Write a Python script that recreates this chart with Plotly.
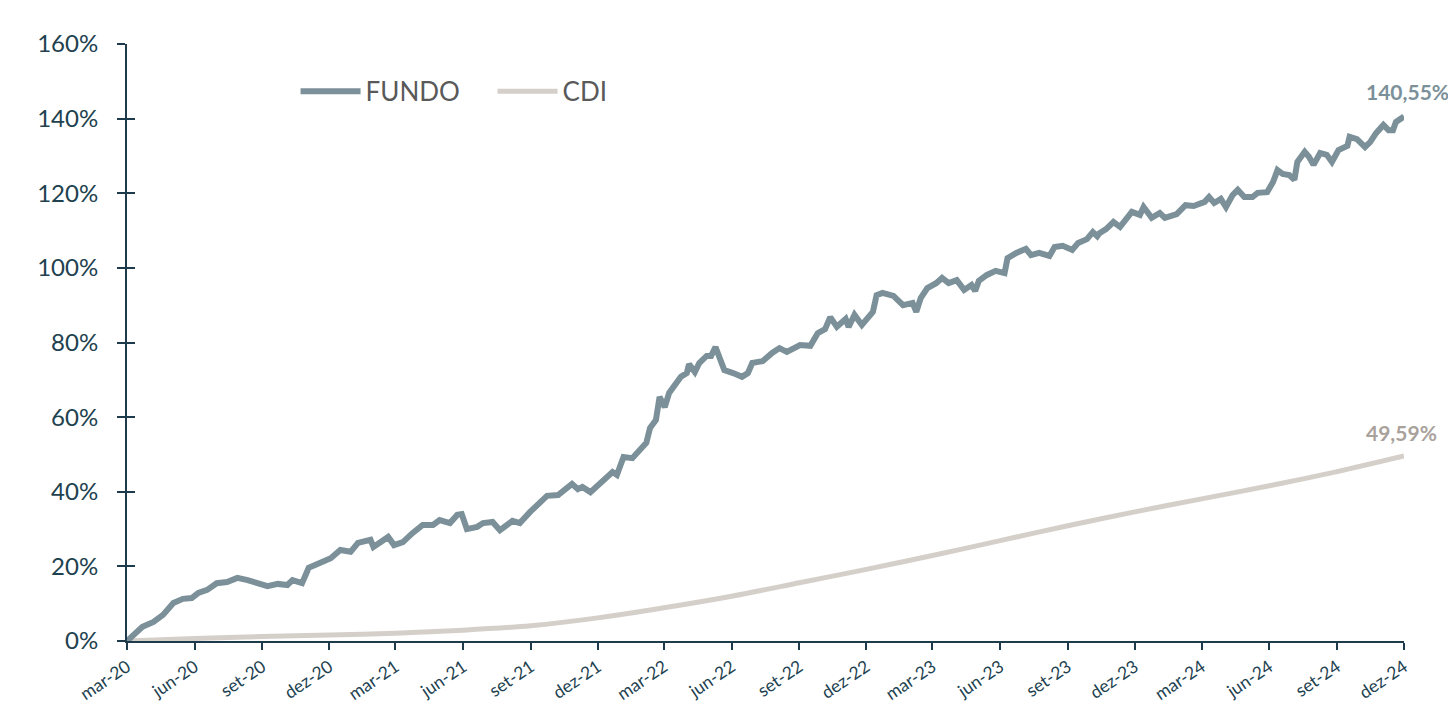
import plotly.graph_objects as go

# ---------------- DATA ----------------
fundo_dates = [
    "2020-03-01", "2020-03-05", "2020-03-22", "2020-04-06", "2020-04-19", "2020-05-03", "2020-05-16", "2020-05-28",
    "2020-06-06", "2020-06-18", "2020-07-01", "2020-07-15", "2020-07-29", "2020-08-12", "2020-08-25", "2020-09-08",
    "2020-09-22", "2020-10-05", "2020-10-12", "2020-10-25", "2020-11-03", "2020-11-19", "2020-12-03", "2020-12-16",
    "2020-12-30", "2021-01-09", "2021-01-26", "2021-01-30", "2021-02-19", "2021-02-27", "2021-03-11", "2021-03-24",
    "2021-04-07", "2021-04-21", "2021-04-30", "2021-05-14", "2021-05-24", "2021-05-30", "2021-06-06", "2021-06-20",
    "2021-06-28", "2021-07-11", "2021-07-21", "2021-08-07", "2021-08-17", "2021-08-31", "2021-09-14", "2021-09-23",
    "2021-10-08", "2021-10-18", "2021-10-27", "2021-11-04", "2021-11-10", "2021-11-21", "2021-12-02", "2021-12-11",
    "2021-12-21", "2021-12-27", "2022-01-05", "2022-01-17", "2022-01-25", "2022-02-05", "2022-02-10", "2022-02-18",
    "2022-02-23", "2022-03-02", "2022-03-08", "2022-03-18", "2022-03-24", "2022-04-01", "2022-04-04", "2022-04-12",
    "2022-04-18", "2022-04-28", "2022-05-04", "2022-05-10", "2022-05-15", "2022-05-22", "2022-06-03", "2022-06-15",
    "2022-06-23", "2022-06-29", "2022-07-07", "2022-07-13", "2022-07-26", "2022-08-05", "2022-08-15", "2022-09-02",
    "2022-09-16", "2022-09-26", "2022-10-06", "2022-10-13", "2022-10-22", "2022-11-03", "2022-11-07", "2022-11-15",
    "2022-11-25", "2022-12-03", "2022-12-10", "2022-12-15", "2022-12-23", "2023-01-07", "2023-01-20", "2023-02-02",
    "2023-02-07", "2023-02-13", "2023-02-22", "2023-03-06", "2023-03-14", "2023-03-23", "2023-04-03", "2023-04-13",
    "2023-04-23", "2023-04-28", "2023-05-03", "2023-05-14", "2023-05-26", "2023-06-07", "2023-06-11", "2023-06-23",
    "2023-07-06", "2023-07-13", "2023-07-24", "2023-08-07", "2023-08-14", "2023-08-25", "2023-09-07", "2023-09-15",
    "2023-09-27", "2023-10-05", "2023-10-11", "2023-10-14", "2023-10-23", "2023-11-02", "2023-11-11", "2023-11-27",
    "2023-12-08", "2023-12-13", "2023-12-24", "2024-01-04", "2024-01-11", "2024-01-27", "2024-02-08", "2024-02-19",
    "2024-03-05", "2024-03-11", "2024-03-18", "2024-03-27", "2024-04-03", "2024-04-12", "2024-04-19", "2024-04-28",
    "2024-05-09", "2024-05-16", "2024-05-29", "2024-06-06", "2024-06-12", "2024-06-19", "2024-06-28", "2024-07-05",
    "2024-07-09", "2024-07-19", "2024-07-25", "2024-07-31", "2024-08-09", "2024-08-18", "2024-08-25", "2024-09-03",
    "2024-09-15", "2024-09-18", "2024-09-28", "2024-10-09", "2024-10-16", "2024-10-24", "2024-11-03", "2024-11-10",
    "2024-11-16", "2024-11-20", "2024-12-01",
]
fundo_values = [
    0.0, 0.8, 3.8, 5.1, 7.0, 10.2, 11.3, 11.5,
    12.9, 13.7, 15.5, 15.8, 16.9, 16.3, 15.5, 14.7,
    15.3, 15.0, 16.3, 15.5, 19.6, 20.9, 22.2, 24.4,
    23.9, 26.3, 27.1, 25.2, 27.9, 25.7, 26.5, 28.9,
    31.1, 31.1, 32.4, 31.6, 33.8, 34.0, 30.0, 30.6,
    31.6, 31.9, 29.7, 32.2, 31.6, 34.6, 37.3, 38.9,
    39.1, 40.5, 42.1, 40.7, 41.3, 39.9, 41.8, 43.1,
    45.3, 44.5, 49.3, 49.0, 50.9, 53.1, 57.1, 59.2,
    65.4, 62.7, 66.5, 69.1, 70.8, 71.8, 74.2, 72.1,
    74.5, 76.4, 76.4, 78.8, 76.6, 72.6, 71.8, 70.8,
    71.8, 74.5, 74.8, 75.0, 77.2, 78.5, 77.5, 79.3,
    79.1, 82.5, 83.6, 86.8, 84.2, 86.3, 84.2, 87.4,
    84.7, 86.8, 88.2, 92.7, 93.3, 92.5, 90.0, 90.6,
    88.2, 91.9, 94.6, 95.9, 97.3, 95.9, 96.7, 94.1,
    95.4, 93.8, 96.5, 98.1, 99.2, 98.6, 102.6, 104.0,
    105.1, 103.4, 104.0, 103.2, 105.6, 105.9, 104.8, 106.7,
    107.7, 109.6, 108.5, 109.3, 110.4, 112.3, 111.0, 115.0,
    114.2, 116.3, 113.4, 114.7, 113.4, 114.4, 116.8, 116.6,
    117.7, 119.0, 117.4, 118.5, 116.3, 119.5, 120.9, 119.0,
    119.0, 120.1, 120.3, 123.0, 126.2, 125.2, 124.9, 123.6,
    128.4, 131.1, 129.7, 127.6, 130.8, 130.3, 128.4, 131.6,
    132.7, 135.1, 134.5, 132.4, 133.7, 136.1, 138.3, 136.9,
    136.9, 139.1, 140.55,
]

cdi_dates = [
    "2020-03-01", "2020-06-01", "2020-09-01", "2020-12-01", "2021-03-01", "2021-06-01", "2021-09-01",
    "2021-12-01", "2022-03-01", "2022-06-01", "2022-09-01", "2022-12-01", "2023-03-01", "2023-06-01",
    "2023-09-01", "2023-12-01", "2024-03-01", "2024-06-01", "2024-09-01", "2024-12-01",
]
cdi_values = [
    0.0, 0.7, 1.2, 1.6, 2.1, 2.9, 4.1,
    6.2, 8.9, 12.0, 15.6, 19.2, 22.9, 26.9,
    30.9, 34.6, 38.1, 41.6, 45.4, 49.59,
]

x_tick_dates = cdi_dates
x_tick_labels = [
    "mar-20", "jun-20", "set-20", "dez-20", "mar-21", "jun-21", "set-21",
    "dez-21", "mar-22", "jun-22", "set-22", "dez-22", "mar-23", "jun-23",
    "set-23", "dez-23", "mar-24", "jun-24", "set-24", "dez-24",
]
y_tick_values = [0, 20, 40, 60, 80, 100, 120, 140, 160]
y_tick_labels = ["0%", "20%", "40%", "60%", "80%", "100%", "120%", "140%", "160%"]

# ---------------- STYLE ----------------
FUNDO_COLOR = "#7b9099"
CDI_COLOR = "#d5cfca"
CDI_LABEL_COLOR = "#a9a19b"
AXIS_COLOR = "#1d3b4a"
TICK_COLOR = "#21414f"
FONT = "Lato, 'Open Sans', sans-serif"


def fmt_pct(v):
    return f"{v:.2f}%".replace(".", ",")


fig = go.Figure()
fig.add_trace(go.Scatter(
    x=cdi_dates, y=cdi_values, name="CDI", mode="lines",
    line=dict(color=CDI_COLOR, width=5, shape="spline", smoothing=0.8),
))
fig.add_trace(go.Scatter(
    x=fundo_dates, y=fundo_values, name="FUNDO", mode="lines",
    line=dict(color=FUNDO_COLOR, width=6),
))
# invisible trace to get cross ticks on y axis
fig.add_trace(go.Scatter(x=[cdi_dates[0]], y=[0], yaxis="y2", showlegend=False,
                         mode="markers", marker=dict(opacity=0), hoverinfo="skip"))

fig.add_annotation(x=fundo_dates[-1], y=fundo_values[-1], text=f"<b>{fmt_pct(fundo_values[-1])}</b>",
                   showarrow=False, xanchor="center", yanchor="bottom", yshift=11, xshift=3,
                   font=dict(family=FONT, size=21, color=FUNDO_COLOR))
fig.add_annotation(x=cdi_dates[-1], y=cdi_values[-1], text=f"<b>{fmt_pct(cdi_values[-1])}</b>",
                   showarrow=False, xanchor="center", yanchor="bottom", yshift=9, xshift=-3,
                   font=dict(family=FONT, size=21, color=CDI_LABEL_COLOR))

# the page body has an 8px margin, so the figure is drawn at (8, 8)
fig.update_layout(
    width=1448, height=697,
    margin=dict(l=119, r=52, t=36, b=64),
    plot_bgcolor="white", paper_bgcolor="white",
    font=dict(family=FONT, color=TICK_COLOR),
    showlegend=True,
    legend=dict(
        orientation="h", x=0.132, y=0.96, xanchor="left", yanchor="top",
        font=dict(family=FONT, size=26, color="#595959"),
        traceorder="reversed", itemwidth=60, entrywidth=122, entrywidthmode="pixels",
        bgcolor="rgba(0,0,0,0)",
    ),
    xaxis=dict(
        type="date", automargin=False,
        range=[cdi_dates[0], cdi_dates[-1]],
        tickmode="array", tickvals=x_tick_dates, ticktext=x_tick_labels,
        tickangle=-34, tickfont=dict(family=FONT, size=17.5, color=TICK_COLOR),
        showgrid=False, zeroline=False,
        showline=True, linecolor=AXIS_COLOR, linewidth=2,
        ticks="outside", ticklen=7, tickwidth=2, tickcolor=AXIS_COLOR,
        ticklabelstandoff=0,
    ),
    yaxis=dict(
        range=[0, 160], automargin=False,
        tickmode="array", tickvals=y_tick_values, ticktext=y_tick_labels,
        tickfont=dict(family=FONT, size=24, color=TICK_COLOR),
        showgrid=False, zeroline=False,
        showline=True, linecolor=AXIS_COLOR, linewidth=2,
        ticks="outside", ticklen=8, tickwidth=2, tickcolor=AXIS_COLOR,
        ticklabelstandoff=14,
    ),
    yaxis2=dict(
        overlaying="y", side="left", range=[0, 160], automargin=False,
        tickmode="array", tickvals=y_tick_values, showticklabels=False,
        ticks="inside", ticklen=8, tickwidth=2, tickcolor=AXIS_COLOR,
        showgrid=False, zeroline=False, showline=False,
    ),
)

fig.write_html("out.html")
